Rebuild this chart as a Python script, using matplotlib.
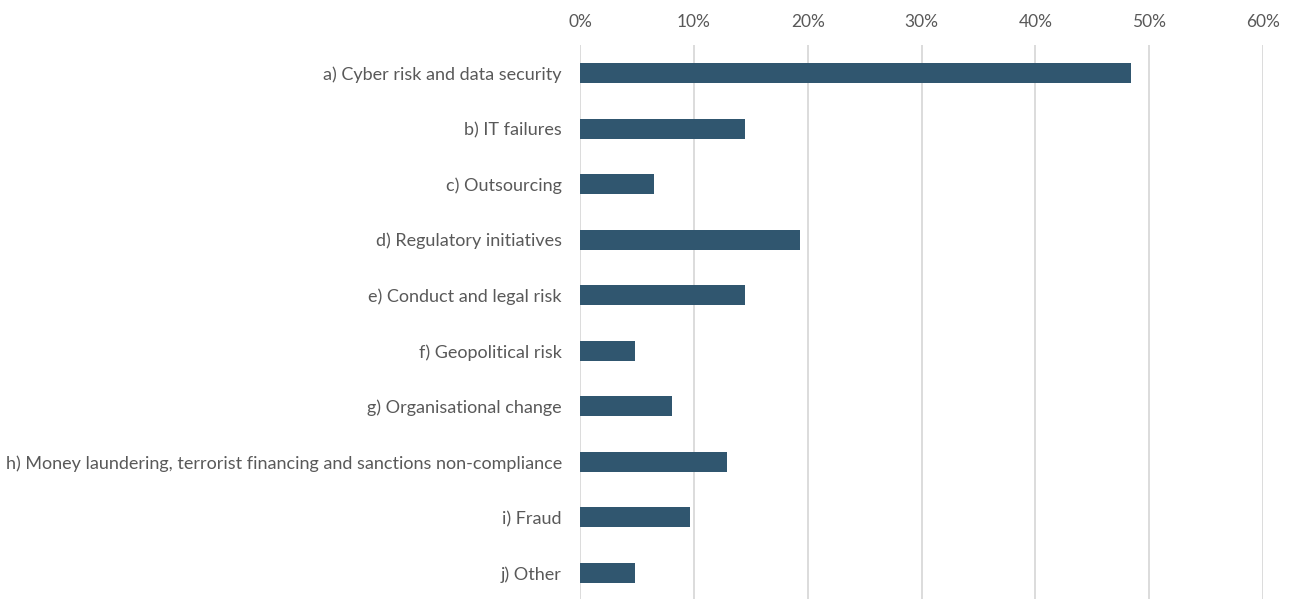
import matplotlib
matplotlib.use("Agg")
import matplotlib.pyplot as plt
from matplotlib.ticker import FuncFormatter

categories = [
    "a) Cyber risk and data security",
    "b) IT failures",
    "c) Outsourcing",
    "d) Regulatory initiatives",
    "e) Conduct and legal risk",
    "f) Geopolitical risk",
    "g) Organisational change",
    "h) Money laundering, terrorist financing and sanctions non-compliance",
    "i) Fraud",
    "j) Other",
]
values = [48.4, 14.5, 6.5, 19.3, 14.5, 4.8, 8.1, 12.9, 9.7, 4.8]
x_ticks = [0, 10, 20, 30, 40, 50, 60]

text_color = "#595959"
bar_color = "#30566F"
grid_color = "#D9D9D9"

plt.rcParams["font.family"] = ["Lato", "DejaVu Sans"]

fig = plt.figure(figsize=(12.95, 5.99), dpi=100)
ax = fig.add_axes([580 / 1295, -1.8 / 599, (1263 - 580) / 1295, 555.6 / 599])

pos = list(range(len(categories)))
ax.barh(pos, values, height=0.36, color=bar_color, zorder=3)

ax.set_xlim(0, 60)
ax.set_ylim(len(categories) - 0.5, -0.5)
ax.set_yticks(pos)
ax.set_yticklabels(categories)
ax.set_xticks(x_ticks)
ax.xaxis.set_major_formatter(FuncFormatter(lambda v, _: f"{int(v)}%"))
ax.xaxis.tick_top()

ax.tick_params(axis="x", length=0, pad=11, labelsize=12.5, labelcolor=text_color)
ax.tick_params(axis="y", length=0, pad=13, labelsize=13, labelcolor=text_color)

ax.grid(axis="x", color=grid_color, linewidth=1.3, zorder=0)
for s in ax.spines.values():
    s.set_visible(False)

fig.savefig("out.png", dpi=100)
